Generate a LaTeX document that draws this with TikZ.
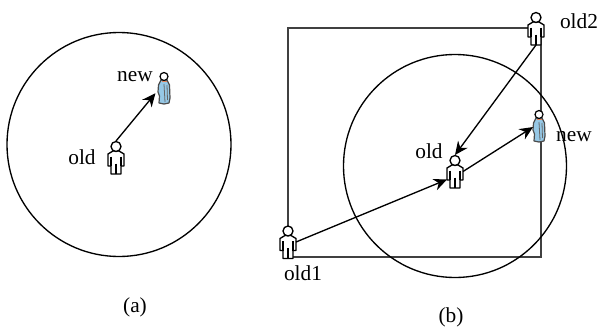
\documentclass[tikz,border=0pt]{standalone}
\usepackage{fontspec}
\setmainfont{Liberation Serif}
\usepackage{tikz}
\usetikzlibrary{arrows.meta}
\definecolor{dressblue}{RGB}{150, 200, 230}
\definecolor{skinred}{RGB}{225, 130, 90}

\tikzset{
  body/.style={draw=black, fill=white, line width=1pt, line join=round},
  man/.pic={
    \draw[body] (-3,-6.5) -- (3,-6.5) -- (8,-3.5) -- (8,8.5) -- (5,8.5) -- (5,16.5)
      -- (-5,16.5) -- (-5,8.5) -- (-8,8.5) -- (-8,-3.5) -- cycle;
    \draw[line width=.8pt] (-5,-1) -- (-5,8.5) (5,-1) -- (5,8.5) (0,6) -- (0,16.5);
    \draw[body] (0,-11) circle (5);
  },
  woman/.pic={
    \draw[draw=black!70, fill=dressblue, line width=.9pt, line join=round]
      (-3,-8) -- (3,-8) -- (5.5,-3) -- (6,10) -- (5,15) -- (0,16) -- (-5,15)
      -- (-4.5,8) -- (-6,4) -- (-5.5,-3) -- cycle;
    \draw[black!60, line width=.6pt] (0,-4) -- (1,14) (3,-3) -- (3.5,12);
    \draw[draw=black, fill=white, line width=.9pt] (0,-11.5) circle (4);
    \fill[skinred] (-2.5,-7.5) rectangle (2.5,-6);
  },
  personbox/.style={inner sep=0pt, outer sep=0pt, minimum width=12pt, minimum height=24.75pt},
  womanbox/.style={personbox, minimum width=9pt, minimum height=24pt},
  arrow/.style={-{Stealth[length=10pt, width=9pt]}, line width=1pt},
  label/.style={inner sep=0pt, font=\fontsize{16}{16}\selectfont}
}

\begin{document}
\begin{tikzpicture}[x=0.75pt, y=-0.75pt]
  \useasboundingbox (0,0) rectangle (600,329);
  % left part
  \draw[line width=1pt] (119,144.5) circle (112);
  % right part
  \draw[black!75, line width=1.2pt] (288,28) rectangle (541,257);
  \draw[line width=1pt] (455,166) circle (111.5);

  \node[personbox] (oldA) at (116,157.5) {};
  \node[womanbox] (newA) at (164,88) {};
  \node[personbox] (oldB) at (455,171.5) {};
  \node[personbox] (oldOne) at (288,242) {};
  \node[personbox] (oldTwo) at (536,28.5) {};
  \node[womanbox] (newB) at (539,126) {};

  \pic at (oldA) {man};
  \pic at (oldB) {man};
  \pic at (oldOne) {man};
  \pic at (oldTwo) {man};
  \pic at (newA) {woman};
  \pic at (newB) {woman};

  \draw[arrow, shorten >=3pt] (oldA.north) -- (newA.200);
  \draw[arrow] (oldOne.east) -- (oldB.225);
  \draw[arrow] (oldB.east) -- (newB.190);
  \draw[arrow] (oldTwo.south) -- (oldB.north);

  \node[label] (lblOldA) at (82,157) {old};
  \node[label] (lblNewA) at (135,77) {new};
  \node[label] (lblOldB) at (429,151) {old};
  \node[label] (lblNewB) at (574,137) {new};
  \node[label] (lblOldOne) at (303,273) {old1};
  \node[label] (lblOldTwo) at (579,21) {old2};
  \node[label] (capA) at (135,307) {(a)};
  \node[label] (capB) at (451,317) {(b)};
\end{tikzpicture}
\end{document}
